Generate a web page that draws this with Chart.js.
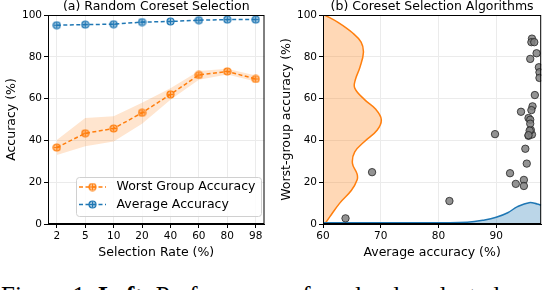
<html>
<head>
<meta charset="UTF-8">
<script src="https://cdn.jsdelivr.net/npm/chart.js@4.4.0/dist/chart.umd.min.js"></script>
<style>
  body { margin:0; background:#fff; width:546px; height:290px; overflow:hidden; position:relative; }
  #left { position:absolute; left:0; top:0; }
  #right { position:absolute; left:270px; top:0; }
  .caption { position:absolute; left:1px; top:283px; font-family:"Liberation Serif", serif; font-size:25px; line-height:25px; white-space:nowrap; }
</style>
<script>
// (a) random coreset selection
var rateLabels = ['2', '5', '10', '20', '40', '60', '80', '98'];
var worstAcc  = [36.6, 43.4, 45.7, 53.2, 62.0, 71.3, 73.0, 69.4];
var worstLow  = [33.0, 37.2, 39.5, 48.0, 59.5, 69.0, 71.5, 68.2];
var worstHigh = [40.2, 50.7, 51.6, 58.0, 65.0, 73.2, 74.3, 71.0];
var avgAcc    = [95.1, 95.4, 95.6, 96.6, 96.9, 97.5, 97.8, 97.8];

// (b) coreset selection algorithms
var algoAvg   = [63.9, 68.5, 81.9, 89.8, 92.4, 93.4, 94.8, 94.8, 95.05, 95.3, 95.6, 96.2, 96.0,
                 96.2, 96.1, 96.6, 97.0, 95.9, 97.4, 97.5, 97.5, 96.7, 96.3, 96.1, 94.3, 95.6, 95.9, 95.9, 95.8, 95.6];
var algoWorst = [2.7, 24.8, 11.0, 43.0, 24.3, 19.2, 21.1, 18.2, 36.0, 28.9, 42.2, 42.8, 45.0,
                 88.7, 87.0, 87.0, 81.7, 79.0, 75.0, 72.6, 69.9, 61.7, 56.3, 54.5, 53.7, 50.7, 49.9, 48.0, 44.7, 42.5];
// density of worst-group acc (drawn sideways) and of average acc
var kdeWorstY = [0, 3.5, 10, 16, 21, 24, 29, 34.5, 39.5, 45, 50, 55, 59.5, 65, 69, 75, 82, 87, 91.5, 96.5, 100];
var kdeWorstX = [60.3, 61.2, 62.9, 64.9, 65.9, 65.9, 65.1, 65.5, 67.2, 69.4, 70.1, 69.1, 67.2, 65.5, 65.6, 66.4, 67.0, 66.6, 65.1, 62.6, 60.3];
var kdeAvgX = [60, 65, 70, 75, 80, 85, 88, 90, 92, 93.7, 95.7, 97.1, 97.8];
var kdeAvgY = [0.6, 0.6, 0.6, 0.6, 0.6, 0.8, 1.9, 3.2, 5.4, 8.3, 10.2, 9.6, 9.0];

var ORANGE = '#ff7f0e', BLUE = '#1f77b4';
var FONT = 'DejaVu Sans';

function marker(color){
    var c = document.createElement('canvas');
    c.width = 9; c.height = 9;
    var g = c.getContext('2d');
    g.beginPath(); g.arc(4.5, 4.5, 3.5, 0, Math.PI*2);
    g.fillStyle = color; g.globalAlpha = 0.45; g.fill();
    g.globalAlpha = 1; g.strokeStyle = color; g.lineWidth = 1.2; g.stroke();
    g.beginPath(); g.moveTo(4.5, 1.5); g.lineTo(4.5, 7.5); g.moveTo(1.5, 4.5); g.lineTo(7.5, 4.5);
    g.lineWidth = 1; g.stroke();
    return c;
}

var framePlugin = {
    id: 'frame',
    afterDraw: function(chart, args, opts){
        var a = chart.chartArea, ctx = chart.ctx;
        ctx.save();
        ctx.strokeStyle = '#000'; ctx.lineWidth = 1;
        ctx.strokeRect(a.left + 0.5, a.top + 0.5, a.right - a.left - 1, a.bottom - a.top - 1);
        ctx.fillStyle = '#000'; ctx.font = '12.5px ' + FONT;
        ctx.textAlign = 'center'; ctx.textBaseline = 'middle';
        ctx.fillText(opts.text, (a.left + a.right)/2, 7);
        ctx.restore();
    }
};

var legendPlugin = {
    id: 'boxlegend',
    afterDraw: function(chart){
        var ctx = chart.ctx;
        ctx.save();
        ctx.beginPath();
        ctx.roundRect(76.5, 177.5, 185, 39, 3);
        ctx.fillStyle = 'rgba(255,255,255,0.85)'; ctx.fill();
        ctx.strokeStyle = '#d0d0d0'; ctx.lineWidth = 1; ctx.stroke();
        var items = [[ORANGE, 'Worst Group Accuracy', 187], [BLUE, 'Average Accuracy', 204.5]];
        items.forEach(function(it){
            ctx.strokeStyle = it[0]; ctx.lineWidth = 1.5; ctx.setLineDash([4, 2.5]);
            ctx.beginPath(); ctx.moveTo(79, it[2]); ctx.lineTo(106, it[2]); ctx.stroke();
            ctx.setLineDash([]);
            ctx.drawImage(marker(it[0]), 88, it[2] - 4.5);
            ctx.fillStyle = '#000'; ctx.font = '12.5px ' + FONT;
            ctx.textAlign = 'left'; ctx.textBaseline = 'middle';
            ctx.fillText(it[1], 116.5, it[2]);
        });
        ctx.restore();
    }
};

function pts(xs, ys){ return xs.map(function(x, i){ return {x: x, y: ys[i]}; }); }

window.onload = function(){
    Chart.defaults.font.family = FONT;
    Chart.defaults.color = '#000';
    Chart.defaults.animation = false;

    var idx = rateLabels.map(function(l, i){ return i; });
    var gridCfg = {color: '#ebebeb', tickColor: '#000', tickLength: 4};

    new Chart(document.getElementById('left'), {
        type: 'scatter',
        data: {
            datasets: [
                {data: pts(idx, worstLow), showLine: true, pointRadius: 0, borderWidth: 0, fill: false},
                {data: pts(idx, worstHigh), showLine: true, pointRadius: 0, borderWidth: 0,
                 backgroundColor: 'rgba(255,127,14,0.2)', fill: '-1'},
                {data: pts(idx, worstAcc), showLine: true, borderColor: ORANGE, borderWidth: 1.5,
                 borderDash: [4, 2.5], pointStyle: marker(ORANGE)},
                {data: pts(idx, avgAcc), showLine: true, borderColor: BLUE, borderWidth: 1.5,
                 borderDash: [4, 2.5], pointStyle: marker(BLUE)}
            ]
        },
        options: {
            responsive: false,
            layout: {padding: {top: 15, right: 2, left: 0, bottom: 0}},
            plugins: {legend: {display: false}, tooltip: {enabled: false}, frame: {text: '(a) Random Coreset Selection'}},
            scales: {
                x: {
                    type: 'linear', min: -0.31, max: 7.31,
                    afterBuildTicks: function(s){ s.ticks = idx.map(function(v){ return {value: v}; }); },
                    afterFit: function(s){ s.height = 36; },
                    ticks: {font: {size: 10.5}, padding: 2, maxRotation: 0,
                            callback: function(v){ return rateLabels[v]; }},
                    grid: gridCfg, border: {color: '#000'},
                    title: {display: true, text: 'Selection Rate (%)', font: {size: 12.5}, padding: {top: 0, bottom: 0}}
                },
                y: {
                    min: 0, max: 100,
                    afterBuildTicks: function(s){ s.ticks = [0,20,40,60,80,100].map(function(v){ return {value: v}; }); },
                    afterFit: function(s){ s.width = 48; },
                    ticks: {font: {size: 10.5}, padding: 2},
                    grid: gridCfg, border: {color: '#000'},
                    title: {display: true, text: 'Accuracy (%)', font: {size: 12.5}, padding: {top: 4, bottom: 2}}
                }
            }
        },
        plugins: [framePlugin, legendPlugin]
    });

    var shapeW = pts(kdeWorstX, kdeWorstY).concat([{x: 60, y: 100}, {x: 60, y: 0}]);
    new Chart(document.getElementById('right'), {
        type: 'scatter',
        data: {
            datasets: [
                {data: shapeW, showLine: true, pointRadius: 0, borderWidth: 0, tension: 0.4,
                 backgroundColor: 'rgba(255,127,14,0.3)', fill: 'shape', order: 5},
                {data: pts(kdeWorstX, kdeWorstY), showLine: true, pointRadius: 0, borderColor: ORANGE,
                 borderWidth: 1.5, tension: 0.4, fill: false, order: 4},
                {data: pts(kdeAvgX, kdeAvgY), showLine: true, pointRadius: 0, borderColor: BLUE,
                 borderWidth: 1.5, tension: 0.4, backgroundColor: 'rgba(31,119,180,0.3)', fill: 'start', order: 3},
                {data: pts(algoAvg, algoWorst), pointRadius: 3.7, backgroundColor: 'rgba(128,128,128,0.85)',
                 borderColor: '#222', borderWidth: 0.8, order: 1}
            ]
        },
        options: {
            responsive: false,
            layout: {padding: {top: 15, right: 2, left: 0, bottom: 0}},
            plugins: {legend: {display: false}, tooltip: {enabled: false}, frame: {text: '(b) Coreset Selection Algorithms'}},
            scales: {
                x: {
                    type: 'linear', min: 60, max: 97.8,
                    afterBuildTicks: function(s){ s.ticks = [60,70,80,90].map(function(v){ return {value: v}; }); },
                    afterFit: function(s){ s.height = 36; },
                    ticks: {font: {size: 10.5}, padding: 2, maxRotation: 0},
                    grid: gridCfg, border: {color: '#000'},
                    title: {display: true, text: 'Average accuracy (%)', font: {size: 12.5}, padding: {top: 0, bottom: 0}}
                },
                y: {
                    min: 0, max: 100,
                    afterBuildTicks: function(s){ s.ticks = [0,20,40,60,80,100].map(function(v){ return {value: v}; }); },
                    afterFit: function(s){ s.width = 53; },
                    ticks: {font: {size: 10.5}, padding: 2},
                    grid: gridCfg, border: {color: '#000'},
                    title: {display: true, text: 'Worst-group accuracy (%)', font: {size: 12.5}, padding: {top: 9, bottom: 2}}
                }
            }
        },
        plugins: [framePlugin]
    });
};
</script>
</head>
<body>
<canvas id="left" width="270" height="260"></canvas>
<canvas id="right" width="276" height="260"></canvas>
<div class="caption">Figure 1: <b>Left</b>: Performance of randomly selected coresets on</div>
</body>
</html>
